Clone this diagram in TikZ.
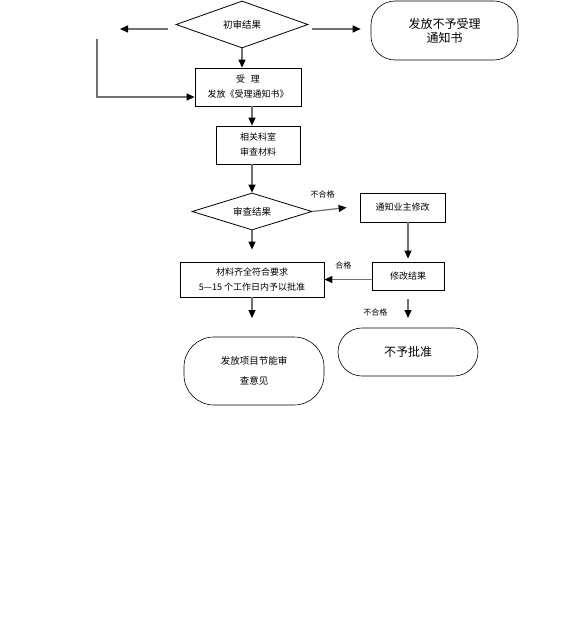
\documentclass[tikz,border=0pt]{standalone}
\usepackage{fontspec}
\setmainfont{Noto Sans CJK SC}
\usepackage{tikz}
\usetikzlibrary{arrows.meta,shapes.geometric}
\definecolor{flowgray}{HTML}{707070}

\begin{document}
\begin{tikzpicture}[x=1pt, y=-1pt,
    box/.style={rectangle, draw, line width=0.8pt, align=center, inner sep=0pt, font=\fontsize{9}{15}\selectfont},
    decision/.style={diamond, draw, line width=0.8pt, aspect=3, inner sep=0pt, font=\fontsize{9.5}{12}\selectfont},
    terminal/.style={rectangle, rounded corners=24pt, draw, line width=0.6pt, align=center, inner sep=0pt},
    flow/.style={draw=flowgray, line width=1.2pt, -{Triangle[length=8pt,width=7pt,color=black,fill=black]}},
    tag/.style={font=\fontsize{8}{9}\selectfont, inner sep=0pt}
]
\useasboundingbox (0,0) rectangle (588,637);
\node[decision, minimum width=132pt, minimum height=47pt] (first) at (242,24.5) {初审结果};
\node[terminal, minimum width=147pt, minimum height=59pt, font=\fontsize{12}{14}\selectfont] (refuse) at (444.5,30.5) {发放不予受理\\通知书};
\node[box, minimum width=106pt, minimum height=38pt] (accept) at (248,87) {受\hspace{6pt}理\\发放《受理通知书》};
\node[box, minimum width=84pt, minimum height=38pt] (dept) at (258,145) {相关科室\\审查材料};
\node[decision, minimum width=120pt, minimum height=37pt] (check) at (252,211.5) {审查结果};
\node[box, minimum width=85pt, minimum height=29pt] (notify) at (402.5,207.5) {通知业主修改};
\node[box, minimum width=72pt, minimum height=28pt] (revise) at (408,276) {修改结果};
\node[box, minimum width=144pt, minimum height=35pt] (pass) at (252,279.5) {材料齐全符合要求\\5—15 个工作日内予以批准};
\node[terminal, minimum width=140pt, minimum height=68pt, rounded corners=30pt, font=\fontsize{9.5}{12}\selectfont] (opinion) at (254,371) {发放项目节能审\\[8pt]查意见};
\node[terminal, minimum width=140pt, minimum height=48pt, font=\fontsize{12}{14}\selectfont] (deny) at (408,352) {不予批准};

\coordinate (leftend) at (120,29);
\coordinate (loopend) at (97,39);
\coordinate (passdown) at (252,318);
\coordinate (denydown) at (408,318);

\draw[flow] ([xshift=-8pt,yshift=-4.5pt]first.west) -- (leftend);
\draw[flow] ([xshift=4pt,yshift=-4.5pt]first.east) -- ([xshift=-10pt,yshift=1.5pt]refuse.west);
\draw[flow] (loopend) |- ([yshift=-10pt]accept.west);
\draw[flow] (first.south) -- (first.south |- accept.north);
\draw[flow] (accept.south -| check) -- (dept.north -| check);
\draw[flow] (dept.south -| check) -- (check.north);
\draw[flow] (check.south) -- ([yshift=12pt]pass.north);
\draw[flow] (check.east) -- ([xshift=-13pt]notify.west) node[tag, pos=0.3, above=12pt] {不合格};
\draw[flow] (notify.south -| revise) -- ([yshift=3pt]revise.north);
\draw[flow] (pass.east -| revise.west) -- (pass.east) node[tag, pos=0.6, above=10pt] {合格};
\draw[flow] (pass.south) -- (passdown);
\draw[flow] ([yshift=-9pt]revise.south) -- (denydown) node[tag, pos=0.68, left=20pt] {不合格};
\end{tikzpicture}
\end{document}
